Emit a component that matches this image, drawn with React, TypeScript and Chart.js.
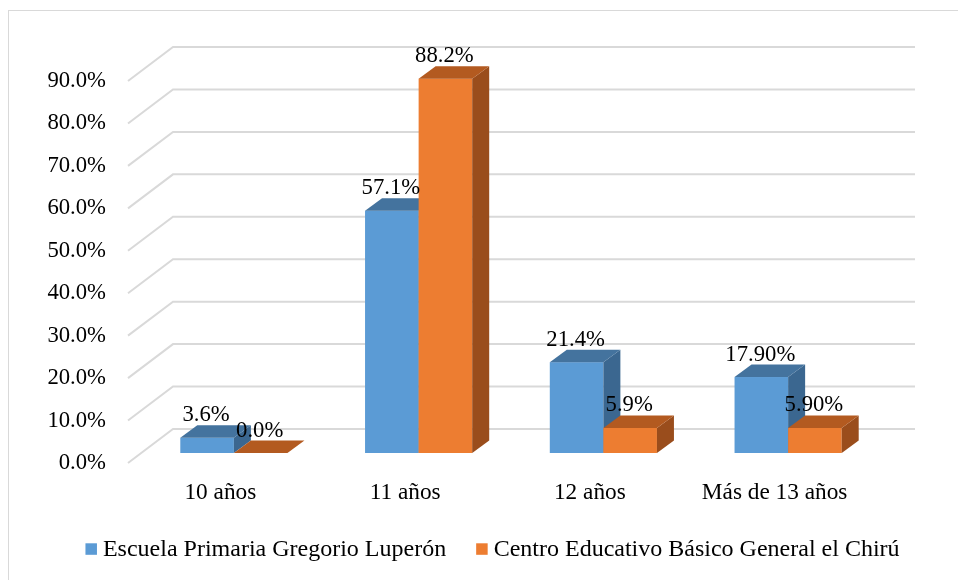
import React, { useEffect, useRef } from 'react';
import { Chart, registerables } from 'chart.js';

Chart.register(...registerables);

const categories = ['10 años', '11 años', '12 años', 'Más de 13 años'];
const seriesNames = ['Escuela Primaria Gregorio Luperón', 'Centro Educativo Básico General el Chirú'];
const escuelaValues = [3.6, 57.1, 21.4, 17.9];
const centroValues = [0.0, 88.2, 5.9, 5.9];
const escuelaLabels = ['3.6%', '57.1%', '21.4%', '17.90%'];
const centroLabels = ['0.0%', '88.2%', '5.9%', '5.90%'];
const yTickLabels = ['0.0%', '10.0%', '20.0%', '30.0%', '40.0%', '50.0%', '60.0%', '70.0%', '80.0%', '90.0%'];

const frontColors = ['#5B9BD5', '#ED7D31'];
const topColors = ['#44739E', '#B35A20'];
const sideColors = ['#3B6790', '#9A4D1C'];

const FONT_FAMILY = '"Liberation Serif", "Times New Roman", serif';
const FONT_SIZE = 22.7;
const X_FONT_SIZE = 23.3;
const LEGEND_FONT_SIZE = 24;

// projection offsets (depth direction)
const WALL_DX = 45;
const WALL_DY = -34;
const FRONT_DX = 13.5;
const FRONT_DY = -10;
const BAR_DX = 17;
const BAR_DY = -12.5;

const depthPlugin = {
  id: 'depth3d',
  beforeDatasetsDraw(chart: any) {
    const { ctx, chartArea, scales } = chart;
    const y = scales.y;
    ctx.save();
    // walls / gridlines
    ctx.strokeStyle = '#d9d9d9';
    ctx.lineWidth = 2;
    y.ticks.forEach((t: any) => {
      const py = y.getPixelForValue(t.value);
      ctx.beginPath();
      ctx.moveTo(chartArea.left, py);
      ctx.lineTo(chartArea.left + WALL_DX, py + WALL_DY);
      ctx.lineTo(chartArea.right + WALL_DX + 3, py + WALL_DY);
      ctx.stroke();
    });
    // 3D bars, painted left to right
    const metas = chart.data.datasets.map((_: any, i: number) => chart.getDatasetMeta(i));
    const n = chart.data.labels.length;
    for (let j = 0; j < n; j++) {
      metas.forEach((meta: any, i: number) => {
        const el = meta.data[j];
        if (!el) return;
        const p = el.getProps(['x', 'y', 'base', 'width'], true);
        const l = p.x - p.width / 2 + FRONT_DX;
        const r = p.x + p.width / 2 + FRONT_DX;
        const t = Math.min(p.y, p.base) + FRONT_DY;
        const b = Math.max(p.y, p.base) + FRONT_DY;
        // front face
        ctx.fillStyle = frontColors[i];
        ctx.fillRect(l, t, r - l, b - t);
        // side face
        ctx.fillStyle = sideColors[i];
        ctx.beginPath();
        ctx.moveTo(r, t);
        ctx.lineTo(r + BAR_DX, t + BAR_DY);
        ctx.lineTo(r + BAR_DX, b + BAR_DY);
        ctx.lineTo(r, b);
        ctx.closePath();
        ctx.fill();
        // top face
        ctx.fillStyle = topColors[i];
        ctx.beginPath();
        ctx.moveTo(l, t);
        ctx.lineTo(r, t);
        ctx.lineTo(r + BAR_DX, t + BAR_DY);
        ctx.lineTo(l + BAR_DX, t + BAR_DY);
        ctx.closePath();
        ctx.fill();
      });
    }
    // data labels
    const labelSets = [escuelaLabels, centroLabels];
    ctx.fillStyle = '#000';
    ctx.font = `${FONT_SIZE}px ${FONT_FAMILY}`;
    ctx.textAlign = 'center';
    ctx.textBaseline = 'alphabetic';
    metas.forEach((meta: any, i: number) => {
      meta.data.forEach((el: any, j: number) => {
        const p = el.getProps(['x', 'y', 'base'], true);
        const t = Math.min(p.y, p.base) + FRONT_DY;
        ctx.fillText(labelSets[i][j], p.x + FRONT_DX - 1, t + BAR_DY - 4);
      });
    });
    ctx.restore();
    return false;
  },
  afterDraw(chart: any) {
    const { ctx } = chart;
    ctx.save();
    // outer border
    ctx.strokeStyle = '#d9d9d9';
    ctx.lineWidth = 1;
    ctx.strokeRect(8.5, 10.5, 2000, 2000);
    // legend
    ctx.font = `${LEGEND_FONT_SIZE}px ${FONT_FAMILY}`;
    ctx.textBaseline = 'alphabetic';
    ctx.textAlign = 'left';
    const box = 11.5;
    const gapText = 6;
    const gapItem = 30;
    const names = chart.data.datasets.map((d: any) => d.label);
    const widths = names.map((s: string) => ctx.measureText(s).width);
    let total = 0;
    widths.forEach((w: number, i: number) => {
      total += box + gapText + w + (i < widths.length - 1 ? gapItem : 0);
    });
    let x = 492.5 - total / 2;
    const baseline = 555.5;
    names.forEach((s: string, i: number) => {
      ctx.fillStyle = frontColors[i];
      ctx.fillRect(x, 543.3, box, box);
      x += box + gapText;
      ctx.fillStyle = '#000';
      ctx.fillText(s, x, baseline);
      x += widths[i] + gapItem;
    });
    ctx.restore();
  },
};

export default function App() {
  const canvasRef = useRef<HTMLCanvasElement | null>(null);

  useEffect(() => {
    const canvas = canvasRef.current;
    if (!canvas) return;
    const font = { family: FONT_FAMILY, size: FONT_SIZE };
    const chart = new Chart(canvas, {
      type: 'bar',
      data: {
        labels: categories,
        datasets: [
          { label: seriesNames[0], data: escuelaValues, backgroundColor: frontColors[0] },
          { label: seriesNames[1], data: centroValues, backgroundColor: frontColors[1] },
        ],
      },
      options: {
        responsive: false,
        animation: false,
        devicePixelRatio: 1,
        categoryPercentage: 0.58,
        barPercentage: 1,
        layout: { padding: { left: 0, top: 81, right: 91, bottom: 0 } },
        plugins: {
          legend: { display: false },
          tooltip: { enabled: false },
          title: { display: false },
        },
        scales: {
          x: {
            grid: { display: false, drawTicks: false },
            border: { display: false },
            ticks: {
              font: { family: FONT_FAMILY, size: X_FONT_SIZE },
              color: '#000',
              padding: 16,
              maxRotation: 0,
              autoSkip: false,
            },
            afterFit: (s: any) => {
              s.height = 117;
            },
          },
          y: {
            min: 0,
            max: 90,
            grid: { display: false, drawTicks: false },
            border: { display: false },
            ticks: {
              stepSize: 10,
              font,
              color: '#000',
              padding: 22,
              callback: (v: any) => yTickLabels[Math.round(Number(v) / 10)] ?? '',
            },
            afterFit: (s: any) => {
              s.width = 128;
            },
          },
        },
      } as any,
      plugins: [depthPlugin],
    });
    return () => chart.destroy();
  }, []);

  return (
    <div style={{ position: 'fixed', left: 0, top: 0, width: 958, height: 580, background: '#fff' }}>
      <canvas ref={canvasRef} width={958} height={580} style={{ display: 'block' }} />
    </div>
  );
}
